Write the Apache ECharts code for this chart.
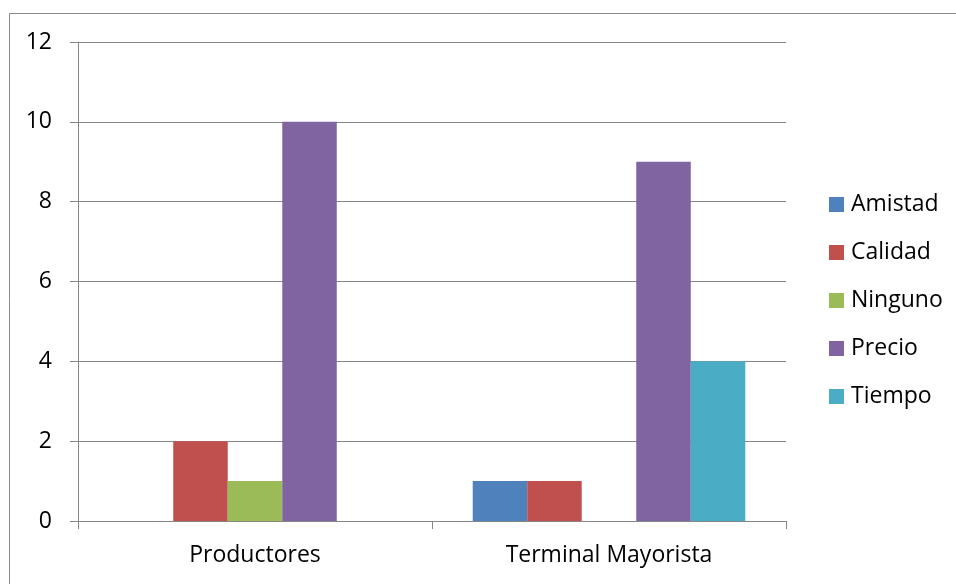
<!DOCTYPE html>
<html>
<head>
<meta charset="utf-8">
<script src="https://cdn.jsdelivr.net/npm/echarts@6/dist/echarts.min.js"></script>
<style>html,body{margin:0;padding:0;background:#fff}#c{width:956px;height:584px}</style>
</head>
<body>
<div id="c"></div>
<script>
const categories = ['Productores', 'Terminal Mayorista'];
const seriesNames = ['Amistad', 'Calidad', 'Ninguno', 'Precio', 'Tiempo'];
const amistad = [0, 1];
const calidad = [2, 1];
const ninguno = [1, 0];
const precio = [10, 9];
const tiempo = [0, 4];
const colors = ['#4F81BD', '#C0504D', '#9BBB59', '#8064A2', '#4BACC6'];
const valuesList = [amistad, calidad, ninguno, precio, tiempo];
const FONT = 'Open Sans';

const chart = echarts.init(document.getElementById('c'));
chart.setOption({
  animation: false,
  graphic: [{
    type: 'rect', silent: true,
    shape: { x: 9.5, y: 13.5, width: 1000, height: 1000 },
    style: { fill: 'none', stroke: '#898989', lineWidth: 1 }
  }],
  grid: { left: 78, right: 170, top: 42, bottom: 63 },
  legend: {
    orient: 'vertical', left: 824, top: 188,
    itemWidth: 15, itemHeight: 15, itemGap: 25,
    icon: 'rect',
    textStyle: { fontFamily: FONT, fontSize: 23, color: '#000', padding: [0, 0, 0, 2] },
    data: seriesNames
  },
  xAxis: {
    type: 'category', data: categories,
    axisLine: { lineStyle: { color: '#868686', width: 1 } },
    axisTick: { show: true, length: 8, lineStyle: { color: '#868686' } },
    axisLabel: { fontFamily: FONT, fontSize: 23, color: '#000', margin: 23 }
  },
  yAxis: {
    type: 'value', min: 0, max: 12, interval: 2,
    axisLine: { show: true, lineStyle: { color: '#868686', width: 1 } },
    axisTick: { show: true, length: 8, lineStyle: { color: '#868686' } },
    splitLine: { lineStyle: { color: '#868686', width: 1 } },
    axisLabel: { fontFamily: FONT, fontSize: 23, color: '#000', margin: 26 }
  },
  series: seriesNames.map((n, i) => ({
    name: n, type: 'bar', data: valuesList[i],
    itemStyle: { color: colors[i] },
    barGap: '0%', barCategoryGap: '23%'
  }))
});
</script>
</body>
</html>
